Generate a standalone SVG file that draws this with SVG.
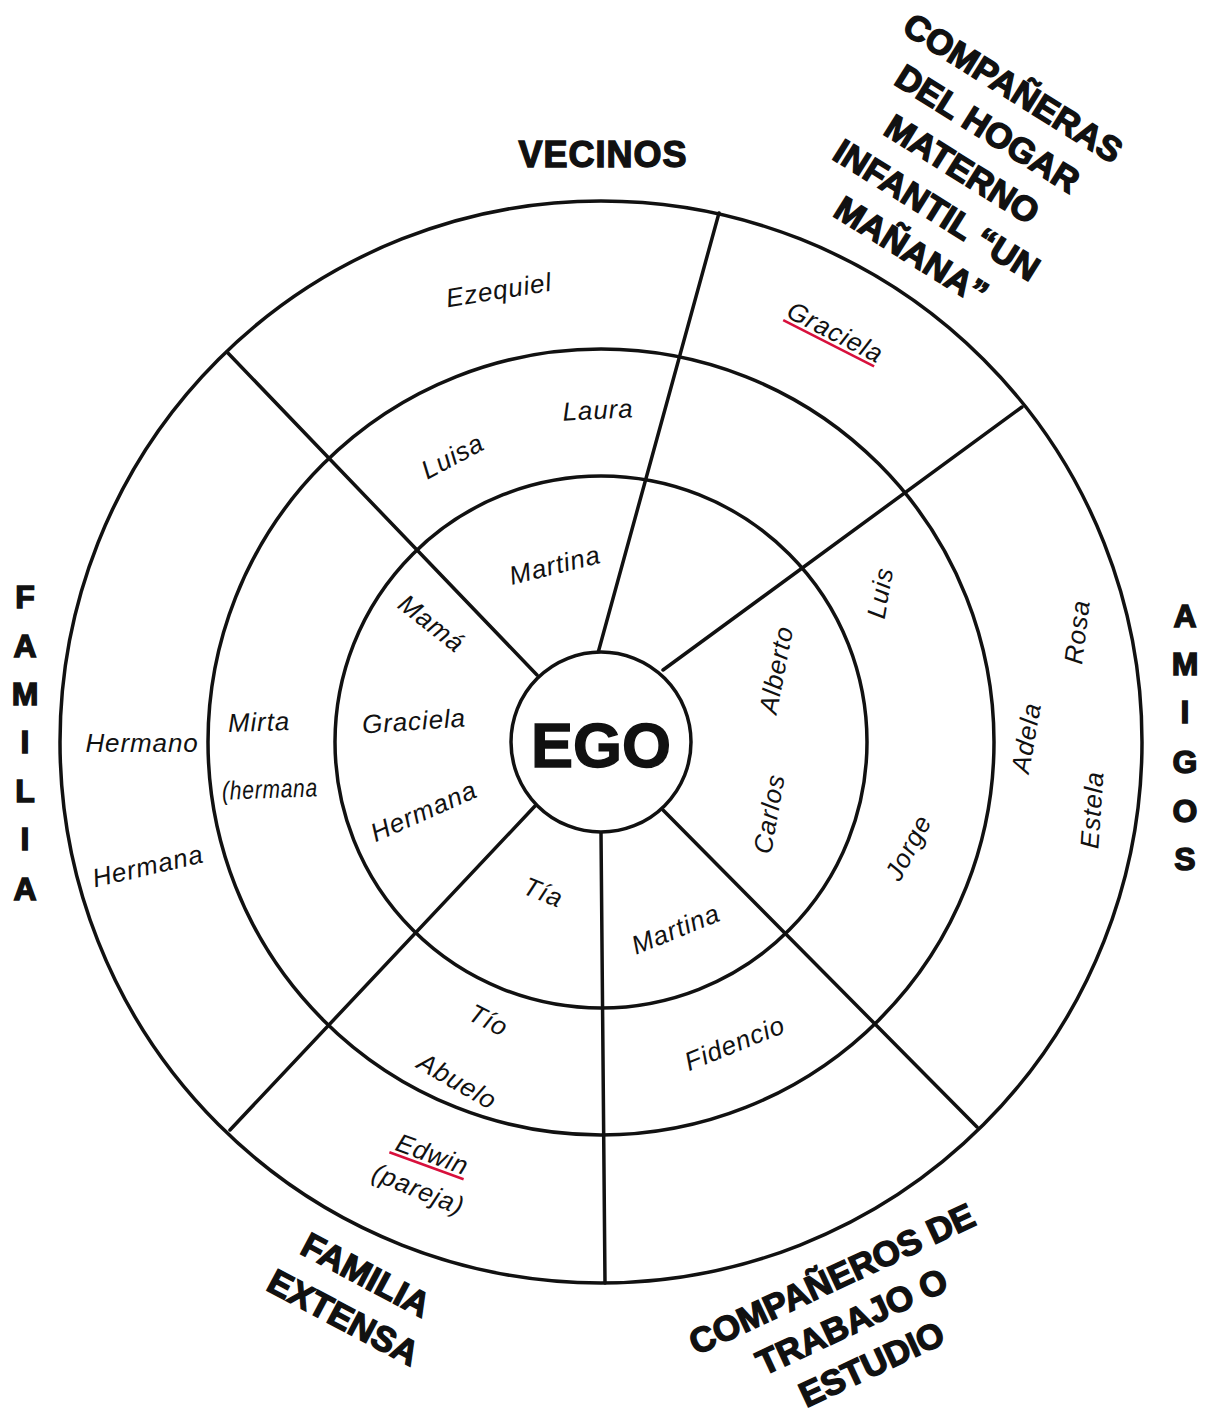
<svg xmlns="http://www.w3.org/2000/svg" width="1214" height="1413" viewBox="0 0 1214 1413">
<style>
.ring{fill:none;stroke:#111;stroke-width:3.5}
.sp{stroke:#111;stroke-width:3.5;stroke-linecap:round}
.cat{font-family:"Liberation Sans",Arial,sans-serif;font-weight:bold;fill:#111;stroke:#111;stroke-width:1.4;text-anchor:middle}
.nm{font-family:"Liberation Sans",Arial,sans-serif;font-style:italic;font-size:26px;fill:#111;letter-spacing:0.9px;text-anchor:middle}
.ul{stroke:#d8103c;stroke-width:2.5}
</style>
<rect width="1214" height="1413" fill="#fff"/>
<g id="rings">
<circle class="ring" cx="601" cy="742" r="541"/>
<circle class="ring" cx="601" cy="742" r="393"/>
<circle class="ring" cx="601" cy="742" r="266"/>
</g>
<g id="connectors">
<line class="sp" x1="598" y1="653" x2="719" y2="213"/>
<line class="sp" x1="663" y1="670" x2="1022" y2="407"/>
<line class="sp" x1="663" y1="810" x2="977" y2="1127"/>
<line class="sp" x1="601" y1="832" x2="605" y2="1283"/>
<line class="sp" x1="535" y1="806" x2="230" y2="1130"/>
<line class="sp" x1="537" y1="675" x2="227" y2="352"/>
</g>
<g id="ego">
<circle cx="601" cy="742" r="90" fill="#fff" stroke="#111" stroke-width="3.5"/>
<text class="cat" x="601" y="767" font-size="63" stroke-width="2">EGO</text>
</g>
<g id="vecinos">
<text class="cat" x="603" y="167" font-size="36" letter-spacing="1">VECINOS</text>
<g transform="translate(499,291) rotate(-9)"><text class="nm" y="8">Ezequiel</text></g>
<g transform="translate(598,411) rotate(-3)"><text class="nm" y="8">Laura</text></g>
<g transform="translate(453,457) rotate(-28)"><text class="nm" y="8">Luisa</text></g>
<g transform="translate(555,566) rotate(-14)"><text class="nm" y="8">Martina</text></g>
</g>
<g id="hogar">
<g transform="translate(1013,88) rotate(32)" class="cat" font-size="35">
<text x="0" y="12">COMPAÑERAS</text>
<text x="0" y="60">DEL HOGAR</text>
<text x="0" y="108">MATERNO</text>
<text x="0" y="156">INFANTIL “UN</text>
<text x="0" y="204">MAÑANA”</text>
</g>
<g transform="translate(835,333) rotate(27)">
<text class="nm" y="8" fill="#333">Graciela</text>
<line class="ul" x1="-52" y1="12" x2="50" y2="12"/>
</g>
</g>
<g id="amigos">
<g class="cat" font-size="32">
<text x="1185" y="627">A</text>
<text x="1185" y="675">M</text>
<text x="1185" y="723">I</text>
<text x="1185" y="773">G</text>
<text x="1185" y="822">O</text>
<text x="1185" y="870">S</text>
</g>
<g transform="translate(777,670) rotate(-79)"><text class="nm" y="8">Alberto</text></g>
<g transform="translate(770,814) rotate(-80)"><text class="nm" y="8">Carlos</text></g>
<g transform="translate(881,593) rotate(-80)"><text class="nm" y="8">Luis</text></g>
<g transform="translate(909,848) rotate(-62)"><text class="nm" y="8">Jorge</text></g>
<g transform="translate(1027,738) rotate(-80)"><text class="nm" y="8">Adela</text></g>
<g transform="translate(1078,632) rotate(-83)"><text class="nm" y="8">Rosa</text></g>
<g transform="translate(1093,810) rotate(-86)"><text class="nm" y="8">Estela</text></g>
</g>
<g id="trabajo">
<g transform="translate(832,1279) rotate(-25)" class="cat" font-size="35">
<text x="0" y="12">COMPAÑEROS DE</text>
<text x="0" y="59">TRABAJO O</text>
<text x="0" y="106">ESTUDIO</text>
</g>
<g transform="translate(676,930) rotate(-22)"><text class="nm" y="8">Martina</text></g>
<g transform="translate(735,1044) rotate(-22)"><text class="nm" y="8">Fidencio</text></g>
</g>
<g id="familia-extensa">
<g transform="translate(366,1275) rotate(28)" class="cat" font-size="35">
<text x="0" y="12">FAMILIA</text>
<text x="0" y="60">EXTENSA</text>
</g>
<g transform="translate(543,893) rotate(22)"><text class="nm" y="8">Tía</text></g>
<g transform="translate(488,1021) rotate(27)"><text class="nm" y="8">Tío</text></g>
<g transform="translate(457,1082) rotate(30)"><text class="nm" y="8">Abuelo</text></g>
<g transform="translate(432,1155) rotate(20)">
<text class="nm" y="8" fill="#333">Edwin</text>
<line class="ul" x1="-41" y1="12" x2="38" y2="12"/>
</g>
<g transform="translate(418,1190) rotate(22)"><text class="nm" y="8">(pareja)</text></g>
</g>
<g id="familia">
<g class="cat" font-size="32">
<text x="25" y="608">F</text>
<text x="25" y="657">A</text>
<text x="25" y="705">M</text>
<text x="25" y="753">I</text>
<text x="25" y="802">L</text>
<text x="25" y="850">I</text>
<text x="25" y="900">A</text>
</g>
<g transform="translate(431,624) rotate(38)"><text class="nm" y="8">Mamá</text></g>
<g transform="translate(414,722) rotate(-4)"><text class="nm" y="8">Graciela</text></g>
<g transform="translate(424,812) rotate(-24)"><text class="nm" y="8">Hermana</text></g>
<g transform="translate(259,723) rotate(-2)"><text class="nm" y="8">Mirta</text></g>
<g transform="translate(270,790) rotate(-2)"><text class="nm" y="8" font-size="24" textLength="96" lengthAdjust="spacingAndGlyphs">(hermana</text></g>
<text class="nm" x="142" y="752">Hermano</text>
<g transform="translate(148,867) rotate(-13)"><text class="nm" y="8">Hermana</text></g>
</g>
</svg>
